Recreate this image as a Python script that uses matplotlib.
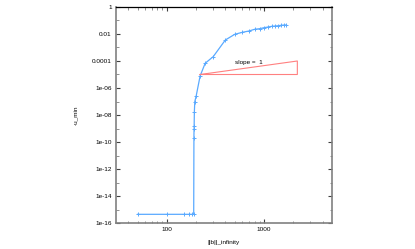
import numpy as np
import matplotlib
matplotlib.use("Agg")
from matplotlib import pyplot as plt
from matplotlib.ticker import FixedLocator, FuncFormatter, NullFormatter

# ||b||_infinity against -u_min
b_inf = [50, 100, 150, 170, 180, 189,
         190, 190.5, 191, 192, 194, 200,
         220, 248, 300, 400, 500, 600, 700, 800, 900, 1000,
         1100, 1200, 1300, 1400, 1500, 1600, 1700]
u_min = [4.4e-16, 4.4e-16, 4.4e-16, 4.4e-16, 4.4e-16, 4.4e-16,
         2.1e-10, 9.1e-10, 1.6e-9, 1.8e-8, 1.0e-7, 2.4e-7,
         7.8e-6, 6.8e-5, 2.1e-4, 3.6e-3, 9.5e-3, 0.0134, 0.0167, 0.0223, 0.0247, 0.0293,
         0.033, 0.037, 0.039, 0.041, 0.044, 0.046, 0.047]

# slope triangle corners
tri_x = [220, 2200, 2200, 220]
tri_y = [1e-5, 1e-4, 1e-5, 1e-5]

plt.rcParams['font.family'] = ['Liberation Sans', 'DejaVu Sans']

fig = plt.figure(figsize=(4.15, 2.49), dpi=100)
ax = fig.add_axes([0.2795, 0.1044, 0.5205, 0.8675])

ax.plot(b_inf, u_min, color='#5aaaff', lw=0.9, marker='+', ms=3.5, mew=0.7)
ax.plot(tri_x, tri_y, color='#ff8080', lw=0.8)
ax.text(700, 8e-5, 'slope =  1', fontsize=4.6, ha='center', va='center')

ax.set_xscale('log')
ax.set_yscale('log')
ax.set_xlim(30, 5000)
ax.set_ylim(1e-16, 1)

ax.xaxis.set_major_locator(FixedLocator([100, 1000]))
ax.xaxis.set_minor_locator(FixedLocator([40, 50, 60, 70, 80, 90,
                                         200, 300, 400, 500, 600, 700, 800, 900,
                                         2000, 3000, 4000]))
ax.xaxis.set_major_formatter(FuncFormatter(lambda v, p: '%d' % v))
ax.xaxis.set_minor_formatter(NullFormatter())

ymaj = [10.0 ** e for e in range(0, -17, -2)]
ymin = [10.0 ** e for e in range(-1, -16, -2)]
ylabs = ['1', '0.01', '0.0001', '1e-06', '1e-08', '1e-10', '1e-12', '1e-14', '1e-16']
ax.yaxis.set_major_locator(FixedLocator(ymaj))
ax.yaxis.set_minor_locator(FixedLocator(ymin))
ax.set_yticklabels(ylabs)
ax.yaxis.set_minor_formatter(NullFormatter())

ax.tick_params(which='both', direction='in', top=True, right=True,
               labelsize=4.6, pad=3)
ax.tick_params(which='major', length=3, width=0.8, color='#404040')
ax.tick_params(which='minor', length=1.8, width=0.6, color='#808080')

for s in ['left', 'bottom', 'right']:
    ax.spines[s].set_color('#808080')
    ax.spines[s].set_linewidth(1.2)
ax.spines['top'].set_color('black')
ax.spines['top'].set_linewidth(0.9)

ax.set_xlabel('||b||_infinity', fontsize=4.6, labelpad=5.5)
ax.set_ylabel('-u_min', fontsize=4.6, labelpad=10)

fig.savefig('out.png', dpi=100)
